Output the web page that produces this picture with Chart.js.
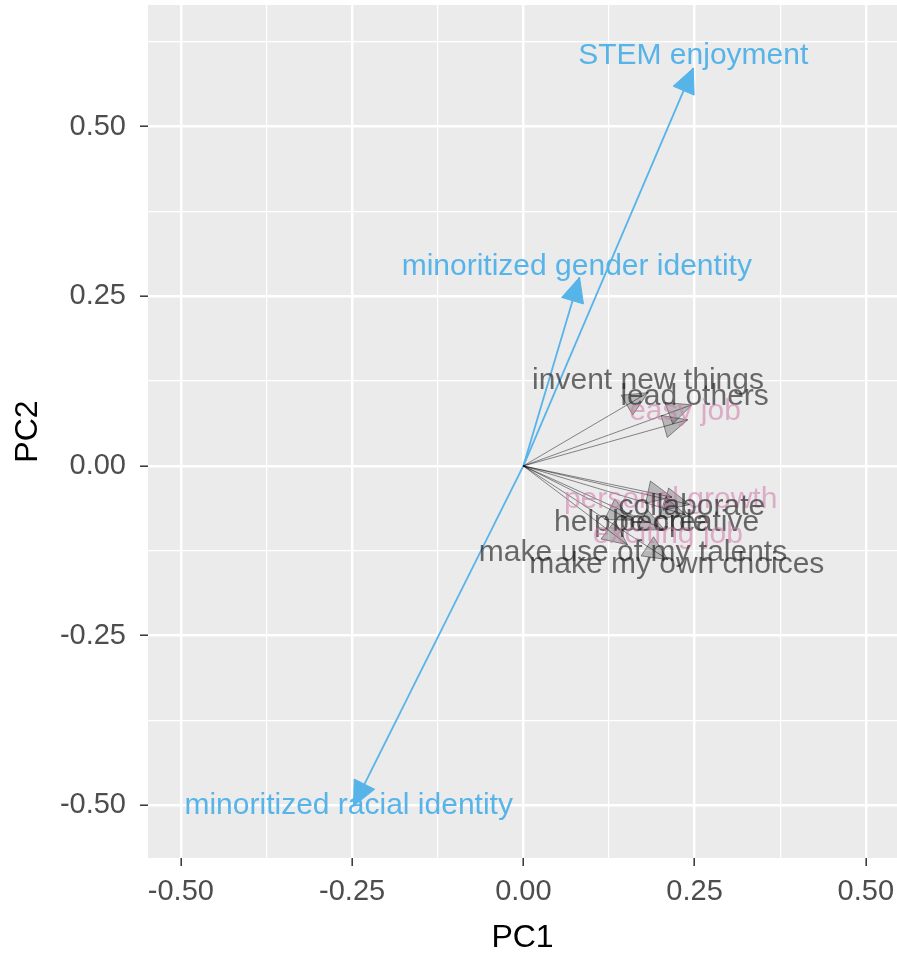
<!DOCTYPE html>
<html>
<head>
<meta charset="utf-8">
<script src="https://cdn.jsdelivr.net/npm/chart.js@4/dist/chart.umd.min.js"></script>
<style>
  html, body { margin: 0; padding: 0; background: #fff; }
  #wrap { width: 897px; height: 954px; }
</style>
</head>
<body>
<div id="wrap"><canvas id="biplot" width="897" height="954"></canvas></div>
<script>
// PCA loadings (arrow tips), and where each label sits
const varNames = [
  'STEM enjoyment', 'minoritized gender identity', 'minoritized racial identity',
  'invent new things', 'lead others', 'easy job',
  'personal growth', 'collaborate', 'help people', 'be creative',
  'exciting job', 'make use of my talents', 'make my own choices'
];
const varGroup = [
  'identity', 'identity', 'identity',
  'agentic', 'agentic', 'extrinsic',
  'extrinsic', 'communal', 'communal', 'agentic',
  'extrinsic', 'agentic', 'agentic'
];
const pc1 = [0.248, 0.082, -0.248, 0.182, 0.246, 0.240, 0.217, 0.243, 0.158, 0.237, 0.206, 0.152, 0.211];
const pc2 = [0.586, 0.278, -0.501, 0.108, 0.090, 0.068, -0.046, -0.057, -0.080, -0.072, -0.094, -0.116, -0.138];
const labelPC1 = [0.248, 0.078, -0.255, 0.182, 0.250, 0.236, 0.215, 0.246, 0.158, 0.237, 0.211, 0.160, 0.224];
const labelPC2 = [0.604, 0.293, -0.501, 0.125, 0.102, 0.080, -0.050, -0.060, -0.083, -0.084, -0.102, -0.128, -0.146];

const xTicks = [-0.5, -0.375, -0.25, -0.125, 0, 0.125, 0.25, 0.375, 0.5];
const yTicks = [-0.5, -0.375, -0.25, -0.125, 0, 0.125, 0.25, 0.375, 0.5, 0.625];

const BLUE = '#56B4E9';
const FONT = '"Liberation Sans", Arial, sans-serif';

function lineColor(g) { return g === 'identity' ? BLUE : 'rgba(0,0,0,0.45)'; }
function labelColor(g) {
  if (g === 'identity') return BLUE;
  if (g === 'extrinsic') return 'rgba(204,121,167,0.55)';
  return 'rgba(30,30,30,0.65)';
}
function isMajor(v) { return Math.abs(v * 4 - Math.round(v * 4)) < 1e-6; }

// draw black arrows first, blue ones on top
const order = varNames.map((n, i) => i).sort((a, b) =>
  (varGroup[a] === 'identity') - (varGroup[b] === 'identity'));

const datasets = order.map(i => ({
  label: varNames[i],
  data: [{ x: 0, y: 0 }, { x: pc1[i], y: pc2[i] }],
  showLine: true,
  pointRadius: 0,
  borderColor: lineColor(varGroup[i]),
  borderWidth: varGroup[i] === 'identity' ? 1.8 : 1
}));

const panelBg = {
  id: 'panelBg',
  beforeDraw(chart) {
    const { ctx, chartArea: a } = chart;
    ctx.save();
    ctx.fillStyle = '#EBEBEB';
    ctx.fillRect(a.left, a.top, a.right - a.left, a.bottom - a.top);
    ctx.restore();
  }
};

const arrowsAndLabels = {
  id: 'arrowsAndLabels',
  afterDatasetsDraw(chart) {
    const { ctx, scales: { x, y } } = chart;
    const x0 = x.getPixelForValue(0), y0 = y.getPixelForValue(0);
    ctx.save();
    order.forEach(i => {
      const tx = x.getPixelForValue(pc1[i]), ty = y.getPixelForValue(pc2[i]);
      const ang = Math.atan2(ty - y0, tx - x0);
      const len = 27, spread = 25 * Math.PI / 180;
      ctx.beginPath();
      ctx.moveTo(tx, ty);
      ctx.lineTo(tx - len * Math.cos(ang - spread), ty - len * Math.sin(ang - spread));
      ctx.lineTo(tx - len * Math.cos(ang + spread), ty - len * Math.sin(ang + spread));
      ctx.closePath();
      if (varGroup[i] === 'identity') {
        ctx.fillStyle = BLUE; ctx.strokeStyle = BLUE;
      } else {
        ctx.fillStyle = 'rgba(0,0,0,0.22)'; ctx.strokeStyle = 'rgba(0,0,0,0.4)';
      }
      ctx.lineWidth = 1;
      ctx.fill();
      ctx.stroke();
    });
    ctx.font = '30px ' + FONT;
    ctx.textAlign = 'center';
    ctx.textBaseline = 'middle';
    order.forEach(i => {
      ctx.fillStyle = labelColor(varGroup[i]);
      ctx.fillText(varNames[i], x.getPixelForValue(labelPC1[i]), y.getPixelForValue(labelPC2[i]));
    });
    ctx.restore();
  }
};

const gridOpts = {
  color: '#FFFFFF',
  lineWidth: c => (c.tick && isMajor(c.tick.value) ? 2.4 : 1.2),
  tickColor: c => (c.tick && isMajor(c.tick.value) ? '#333333' : 'rgba(0,0,0,0)'),
  tickLength: 8,
  tickWidth: 1.5,
  drawOnChartArea: true
};

new Chart(document.getElementById('biplot'), {
  type: 'scatter',
  data: { datasets },
  options: {
    responsive: false,
    animation: false,
    events: [],
    layout: { padding: { top: 5, right: 0, left: 0, bottom: 0 } },
    plugins: { legend: { display: false }, tooltip: { enabled: false } },
    scales: {
      x: {
        type: 'linear',
        min: -0.548,
        max: 0.5455,
        border: { display: false },
        grid: gridOpts,
        afterBuildTicks: s => { s.ticks = xTicks.map(v => ({ value: v })); },
        afterFit: s => { s.height = 96; s.paddingLeft = 0; s.paddingRight = 0; },
        ticks: {
          autoSkip: false,
          maxRotation: 0,
          padding: 9,
          color: '#4D4D4D',
          font: { family: FONT, size: 29 },
          callback: v => (isMajor(v) ? v.toFixed(2) : '')
        },
        title: {
          display: true,
          text: 'PC1',
          color: '#000000',
          font: { family: FONT, size: 32, lineHeight: 1 },
          padding: { top: 0, bottom: 0 }
        }
      },
      y: {
        type: 'linear',
        min: -0.5775,
        max: 0.679,
        border: { display: false },
        grid: gridOpts,
        afterBuildTicks: s => { s.ticks = yTicks.map(v => ({ value: v })); },
        afterFit: s => { s.width = 148; s.paddingTop = 0; s.paddingBottom = 0; },
        ticks: {
          autoSkip: false,
          padding: 14,
          color: '#4D4D4D',
          font: { family: FONT, size: 29 },
          callback: v => (isMajor(v) ? v.toFixed(2) : '')
        },
        title: {
          display: true,
          text: 'PC2',
          color: '#000000',
          font: { family: FONT, size: 32, lineHeight: 1 },
          padding: { top: 12, bottom: 0 }
        }
      }
    }
  },
  plugins: [panelBg, arrowsAndLabels]
});
</script>
</body>
</html>
